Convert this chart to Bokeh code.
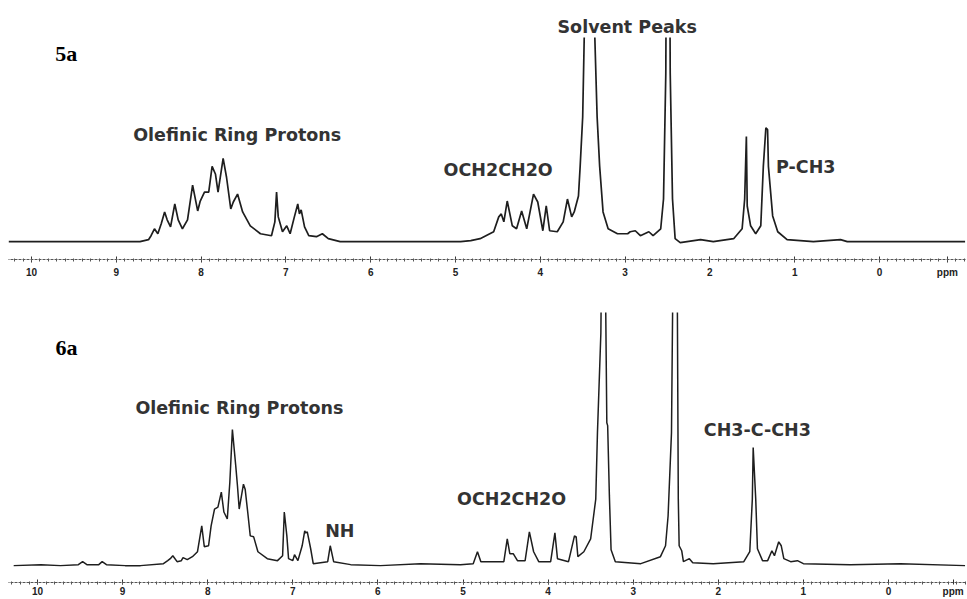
from bokeh.plotting import figure
from bokeh.models import Range1d, FixedTicker, ColumnDataSource
from bokeh.layouts import column
from bokeh.core.properties import value
from bokeh.embed import file_html
from bokeh.resources import INLINE

# ---------------- data: spectrum 5a (ppm, intensity) ----------------
top_ppm = [10.27, 8.72, 8.62, 8.59, 8.55, 8.51, 8.47, 8.43, 8.40, 8.36, 8.31, 8.27, 8.22,
           8.16, 8.10, 8.04, 8.01, 7.96, 7.91, 7.87, 7.83, 7.80, 7.74, 7.70, 7.65, 7.62,
           7.57, 7.51, 7.42, 7.30, 7.17, 7.13, 7.11, 7.09, 7.04, 6.99, 6.95, 6.90, 6.86,
           6.84, 6.82, 6.78, 6.73, 6.64, 6.57, 6.50, 6.36, 4.94, 4.82, 4.71, 4.55, 4.49,
           4.46, 4.43, 4.39, 4.33, 4.28, 4.22, 4.16, 4.13, 4.08, 4.03, 3.97, 3.93, 3.89,
           3.80, 3.73, 3.68, 3.63, 3.60, 3.55, 3.53, 3.50, 3.48, 3.42, 3.36, 3.33, 3.30,
           3.26, 3.20, 3.09, 2.97, 2.94, 2.88, 2.82, 2.72, 2.67, 2.58, 2.547, 2.52, 2.494,
           2.468, 2.441, 2.41, 2.35, 2.11, 1.96, 1.72, 1.62, 1.59, 1.57, 1.56, 1.52, 1.46,
           1.40, 1.37, 1.34, 1.32, 1.31, 1.26, 1.20, 1.09, 0.78, 0.46, 0.38, -1.01]
top_int = [0, 0, 2, 6, 13, 8, 18, 30, 22, 15, 38, 22, 13,
           22, 57, 31, 41, 50, 50, 76, 68, 50, 84, 65, 33, 40,
           48, 30, 16, 8, 6, 20, 50, 25, 10, 16, 8, 25, 38,
           28, 32, 15, 6, 5, 8, 3, 0, 0, 1, 3, 10, 25,
           28, 20, 41, 16, 13, 31, 13, 26, 48, 40, 11, 36, 11,
           10, 20, 43, 25, 30, 46, 76, 126, 215, 420, 215, 126, 76,
           30, 13, 8, 8, 10, 11, 6, 10, 6, 13, 43, 170, 700,
           170, 43, 3, -1, 2, 0, 3, 13, 43, 106, 36, 16, 8,
           16, 76, 115, 113, 76, 26, 10, 2, 0, 2, 0, 0]

# ---------------- data: spectrum 6a (ppm, intensity) ----------------
bot_ppm = [10.28, 9.96, 9.73, 9.52, 9.47, 9.42, 9.28, 9.24, 9.19, 8.97, 8.79, 8.52, 8.47,
           8.44, 8.41, 8.36, 8.31, 8.29, 8.24, 8.18, 8.12, 8.07, 8.04, 7.99, 7.96, 7.92,
           7.88, 7.84, 7.81, 7.77, 7.74, 7.71, 7.67, 7.65, 7.63, 7.58, 7.56, 7.53, 7.50,
           7.46, 7.41, 7.30, 7.18, 7.12, 7.10, 7.07, 7.05, 7.00, 6.98, 6.94, 6.89, 6.86,
           6.85, 6.83, 6.79, 6.76, 6.59, 6.56, 6.52, 6.32, 5.97, 5.50, 5.03, 4.88, 4.83,
           4.79, 4.76, 4.52, 4.48, 4.45, 4.41, 4.36, 4.27, 4.22, 4.17, 4.11, 3.97, 3.92,
           3.89, 3.76, 3.69, 3.67, 3.65, 3.58, 3.50, 3.44, 3.42, 3.38, 3.35, 3.31, 3.30,
           3.28, 3.26, 3.21, 2.91, 2.68, 2.62, 2.59, 2.55, 2.50, 2.47, 2.46, 2.43, 2.41,
           2.34, 2.30, 2.06, 1.70, 1.63, 1.60, 1.59, 1.56, 1.54, 1.48, 1.42, 1.37, 1.34,
           1.29, 1.26, 1.23, 1.15, 1.07, 1.00, 0.45, -0.14, -0.90]
bot_int = [-1, 0, -1, 0, 3, 0, 0, 3, 0, -1, -1, 1, 4,
           6, 9, 3, 4, 7, 5, 8, 13, 39, 18, 19, 39, 56,
           58, 73, 53, 46, 83, 136, 99, 79, 56, 81, 76, 53, 29,
           28, 13, 6, 4, 9, 53, 29, 6, 4, 10, 4, 19, 34,
           32, 33, 16, 1, 3, 19, 3, 0, -1, 1, 0, 1, 13,
           3, 3, 3, 26, 11, 11, 4, 4, 33, 13, 3, 3, 32,
           6, 3, 29, 28, 8, 13, 26, 66, 133, 233, 500, 143, 140,
           70, 15, 3, 1, 8, 19, 49, 133, 600, 66, 19, 14, 3,
           6, 2, 1, 3, 13, 66, 118, 66, 16, 4, 4, 14, 9,
           23, 19, 6, 3, 4, 1, 0, 1, -1]

# ---------------- axis ticks ----------------
tick_values = [10, 9, 8, 7, 6, 5, 4, 3, 2, 1, 0]
tick_labels = ["10", "9", "8", "7", "6", "5", "4", "3", "2", "1", "0"]
unit_label = "ppm"

# ---------------- annotations ----------------
top_tag = "5a"
bot_tag = "6a"
top_title = "Solvent Peaks"
top_lbl_text = ["Olefinic Ring Protons", "OCH2CH2O", "P-CH3"]
bot_lbl_text = ["Olefinic Ring Protons", "NH", "OCH2CH2O", "CH3-C-CH3"]
# label anchor positions (ppm, intensity)
top_lbl_x = [8.80, 5.14, 1.22]
top_lbl_y = [108, 72, 75]
bot_lbl_x = [8.85, 6.62, 5.07, 2.17]
bot_lbl_y = [158, 34, 66, 136]

LABEL_FONT = "DejaVu Sans"
LABEL_COLOR = "#333333"


def style_axis(p, unit_pos, tick_out, standoff):
    ax = p.xaxis[0]
    minor = [round(i * 0.1, 1) for i in range(-10, 104)]
    ax.ticker = FixedTicker(ticks=tick_values + [unit_pos], minor_ticks=minor)
    overrides = {float(v): s for v, s in zip(tick_values, tick_labels)}
    overrides[unit_pos] = unit_label
    ax.major_label_overrides = overrides
    ax.axis_line_color = "#555555"
    ax.axis_line_width = 1
    ax.axis_line_dash = "3 1"
    ax.major_tick_line_color = "#333333"
    ax.major_tick_in = 3
    ax.major_tick_out = tick_out
    ax.minor_tick_line_color = "#555555"
    ax.minor_tick_in = 1
    ax.minor_tick_out = 2
    ax.major_label_standoff = standoff
    ax.major_label_text_font = "Liberation Sans"
    ax.major_label_text_font_style = "bold"
    ax.major_label_text_font_size = "10px"
    ax.major_label_text_color = "#222222"


def base_fig(h, xr, yr, top_border, bottom_border, title=None):
    p = figure(width=967, height=h, x_range=xr, y_range=yr,
               output_backend="svg", toolbar_location=None,
               min_border_left=8, min_border_right=2,
               min_border_top=top_border, min_border_bottom=bottom_border,
               title=title)
    p.yaxis.visible = False
    p.grid.visible = False
    p.outline_line_color = None
    p.background_fill_color = "white"
    p.border_fill_color = "white"
    return p


# ---------------- top panel (5a) ----------------
p1 = base_fig(280, Range1d(10.271, -1.014), Range1d(-18, 206), 37, 19, top_title)
p1.title.align = "left"
p1.title.offset = 549
p1.title.standoff = 1
p1.title.text_font = LABEL_FONT
p1.title.text_font_style = "bold"
p1.title.text_font_size = "17.5px"
p1.title.text_color = LABEL_COLOR
style_axis(p1, -0.8, 3, 4)

src1 = ColumnDataSource(dict(x=top_ppm, y=top_int))
p1.line("x", "y", source=src1, line_color="#1e1e1e", line_width=1.7)
p1.text(x=top_lbl_x, y=top_lbl_y, text=top_lbl_text,
        text_font=value(LABEL_FONT), text_font_style="bold",
        text_font_size="17.5px", text_color=LABEL_COLOR,
        text_baseline="alphabetic", text_align="left")
p1.text(x=[9.72], y=[190], text=[top_tag],
        text_font=value("Liberation Serif"), text_font_style="bold",
        text_font_size="22px", text_color="black",
        text_baseline="alphabetic", text_align="left")

# ---------------- bottom panel (6a) ----------------
p2 = base_fig(319, Range1d(10.341, -0.905), Range1d(-18, 254), 32, 15)
style_axis(p2, -0.76, 2, 1)

src2 = ColumnDataSource(dict(x=bot_ppm, y=bot_int))
p2.line("x", "y", source=src2, line_color="#1e1e1e", line_width=1.5)
p2.text(x=bot_lbl_x, y=bot_lbl_y, text=bot_lbl_text,
        text_font=value(LABEL_FONT), text_font_style="bold",
        text_font_size="17.5px", text_color=LABEL_COLOR,
        text_baseline="alphabetic", text_align="left")
p2.text(x=[9.79], y=[219], text=[bot_tag],
        text_font=value("Liberation Serif"), text_font_style="bold",
        text_font_size="22px", text_color="black",
        text_baseline="alphabetic", text_align="left")

layout = column(p1, p2, spacing=0)
open("out.html", "w").write(file_html(layout, INLINE))
